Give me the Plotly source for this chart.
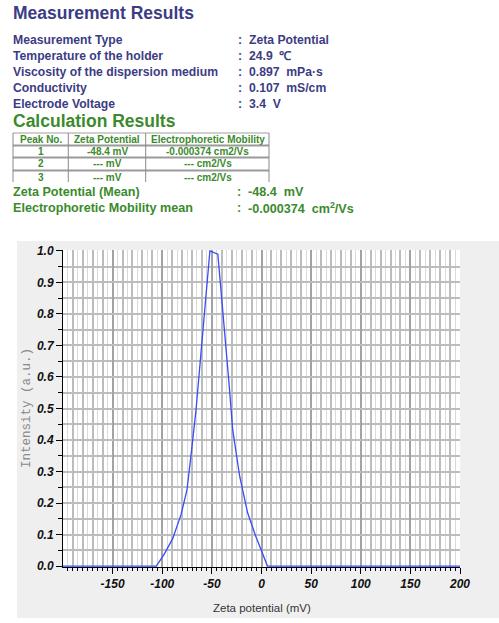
import plotly.graph_objects as go

# ---------------- data ----------------
zeta_mv = [-200, -106, -98, -89.5, -81, -75, -70, -66, -52, -44, -33, -29, -22, -14, -6, 6, 200]
intensity = [0, 0, 0.038, 0.087, 0.164, 0.243, 0.38, 0.495, 1.0, 0.99, 0.59, 0.432, 0.285, 0.169, 0.096, 0, 0]

x_tick_vals = [-150, -100, -50, 0, 50, 100, 150, 200]
x_tick_text = ["-150", "-100", "-50", "0", "50", "100", "150", "200"]

meas_labels = ["Measurement Type", "Temperature of the holder", "Viscosity of the dispersion medium",
               "Conductivity", "Electrode Voltage"]
meas_values = ["Zeta Potential", "24.9  \u2103", "0.897  mPa\u00b7s", "0.107  mS/cm", "3.4  V"]

table_header = ["Peak No.", "Zeta Potential", "Electrophoretic Mobility"]
table_peak = ["1", "2", "3"]
table_zeta = ["-48.4 mV", "--- mV", "--- mV"]
table_mob = ["-0.000374 cm2/Vs", "--- cm2/Vs", "--- cm2/Vs"]

calc_labels = ["Zeta Potential (Mean)", "Electrophoretic Mobility mean"]
calc_values = ["-48.4  mV", "-0.000374  cm<sup>2</sup>/Vs"]

# ---------------- geometry ----------------
W, H = 499, 623
L, R, T, B = 63, 460, 250, 567
NAVY = "#3c3c84"
GREEN = "#3b8a2d"
FONT = "Liberation Sans"


def px(x):
    return (x - L) / (R - L)


def py(y):
    return (B - y) / (B - T)


fig = go.Figure()
fig.add_trace(go.Scatter(x=zeta_mv, y=intensity, mode="lines",
                         line=dict(color="#3b4bf7", width=1.3),
                         hoverinfo="skip", showlegend=False))
# invisible companion trace so the secondary grid axis is rendered
fig.add_trace(go.Scatter(x=zeta_mv, y=intensity, mode="lines", xaxis="x2",
                         line=dict(color="rgba(0,0,0,0)", width=0),
                         hoverinfo="skip", showlegend=False))

minor5 = [v for v in range(-195, 200, 10)]
ten = [v for v in range(-190, 200, 10) if v % 50 != 0]

tickfont = dict(family=FONT, size=12, color="#111111", weight="bold", style="italic")

fig.update_layout(
    width=W, height=H, autosize=False,
    margin=dict(l=L, r=W - R, t=T, b=H - B, pad=0),
    paper_bgcolor="white", plot_bgcolor="rgba(0,0,0,0)",
    showlegend=False,
    xaxis=dict(range=[-200, 200], tickmode="array", tickvals=x_tick_vals, ticktext=x_tick_text,
               ticks="outside", ticklen=6, tickcolor="black", tickwidth=1,
               showgrid=True, gridcolor="#a3a3a3", gridwidth=1.5,
               minor=dict(tickmode="array", tickvals=minor5, ticks="outside", ticklen=3,
                          tickcolor="black", showgrid=True, gridcolor="#dadada", gridwidth=1.3),
               showline=True, linecolor="black", linewidth=1, zeroline=False,
               tickfont=tickfont, layer="below traces", fixedrange=True),
    xaxis2=dict(range=[-200, 200], overlaying="x", anchor="y", side="bottom",
                tickmode="array", tickvals=ten, ticks="outside", ticklen=3, tickcolor="black",
                showticklabels=False, showgrid=True, gridcolor="#bcbcbc", gridwidth=1.8,
                showline=False, zeroline=False, layer="below traces", fixedrange=True),
    yaxis=dict(range=[-0.003, 1.003], tickmode="linear", tick0=0, dtick=0.1, tickformat=".1f",
               ticks="outside", ticklen=6, tickcolor="black",
               showgrid=True, gridcolor="#bcbcbc", gridwidth=1.8,
               minor=dict(dtick=0.05, tick0=0, ticks="outside", ticklen=4, tickcolor="black",
                          showgrid=True, gridcolor="#bcbcbc", gridwidth=1.8),
               showline=True, linecolor="black", linewidth=1, zeroline=False,
               tickfont=tickfont, layer="below traces", fixedrange=True),
)

shapes = []
# grey chart panel and white plotting area
shapes.append(dict(type="rect", xref="paper", yref="paper", layer="below",
                   x0=px(17), x1=px(499), y0=py(618), y1=py(241),
                   fillcolor="#efefef", line=dict(width=0)))
shapes.append(dict(type="rect", xref="paper", yref="paper", layer="below",
                   x0=0, x1=1, y0=0, y1=1, fillcolor="white", line=dict(width=0)))
# table rules
tl, tr = 13, 269
shapes.append(dict(type="line", xref="paper", yref="paper", x0=px(tl), x1=px(tr), y0=py(133), y1=py(133),
                   line=dict(color="#a0a0a0", width=1)))
for yy in [145.5, 157.5, 170.5]:
    shapes.append(dict(type="line", xref="paper", yref="paper", x0=px(tl), x1=px(tr), y0=py(yy), y1=py(yy),
                       line=dict(color="#9a9a9a", width=2)))
for xx in [tl, 68.3, 145.7, tr]:
    shapes.append(dict(type="line", xref="paper", yref="paper", x0=px(xx), x1=px(xx), y0=py(133), y1=py(182),
                       line=dict(color="#8a8a8a", width=1)))
fig.update_layout(shapes=shapes)

ann = []


def text(x, y, s, size, color, weight="bold", anchor="left", family=FONT, **kw):
    ann.append(dict(x=px(x), y=py(y), xref="paper", yref="paper", text=s, showarrow=False,
                    xanchor=anchor, yanchor="middle",
                    font=dict(family=family, size=size, color=color, weight=weight), **kw))


text(11, 13, "Measurement Results", 17.5, NAVY)
for i, (lab, val) in enumerate(zip(meas_labels, meas_values)):
    yy = 40 + 16 * i
    text(11, yy, lab, 12.2, NAVY)
    text(236, yy, ":", 12.2, NAVY)
    text(247, yy, val, 12.2, NAVY)

text(11, 121, "Calculation Results", 17.5, GREEN)
col_c = [40.5, 107, 207.5]
for c, h in zip(col_c, table_header):
    text(c, 139.5, h, 10, GREEN, anchor="center")
for r in range(3):
    yy = [151.5, 164, 177][r]
    text(col_c[0], yy, table_peak[r], 10, GREEN, anchor="center")
    text(col_c[1], yy, table_zeta[r], 10, GREEN, anchor="center")
    text(col_c[2], yy, table_mob[r], 10, GREEN, anchor="center")

for i, (lab, val) in enumerate(zip(calc_labels, calc_values)):
    yy = [191.5, 208.5][i]
    text(11, yy, lab, 12.6, GREEN)
    text(235, yy, ":", 12.6, GREEN)
    text(246, yy, val, 12.6, GREEN)

# axis titles
text(261.5, 608, "Zeta potential (mV)", 11.5, "#333333", weight="normal", anchor="center")
text(27, 408, "Intensity (a.u.)", 12.5, "#8a8a8a", weight="normal", anchor="center",
     family="Liberation Mono", textangle=-90)

fig.update_layout(annotations=ann)

fig.write_html("out.html", config={"displayModeBar": False},
               post_script="document.body.style.margin='0';")
